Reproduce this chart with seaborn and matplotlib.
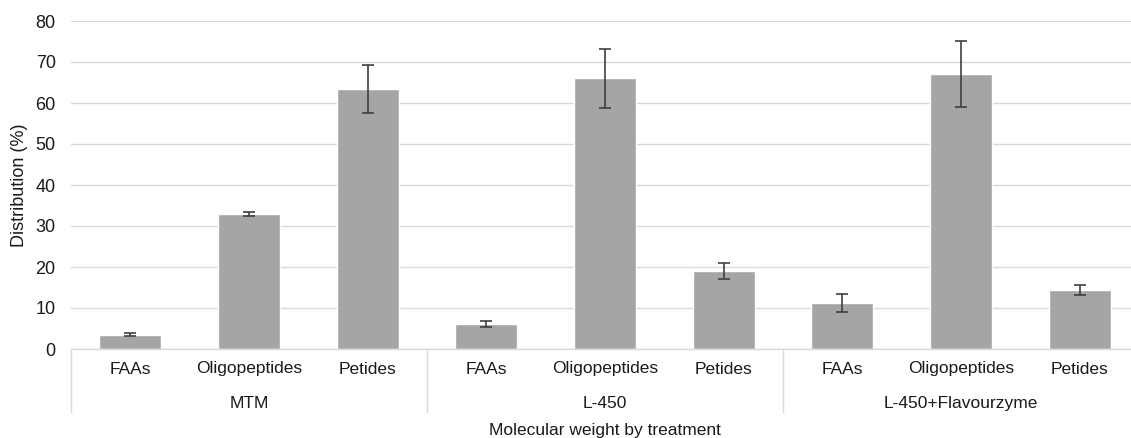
import matplotlib
matplotlib.use("Agg")
import matplotlib.pyplot as plt
import matplotlib.transforms as mtransforms
import seaborn as sns
import pandas as pd
import numpy as np

treatments = ["MTM", "L-450", "L-450+Flavourzyme"]
fractions = ["FAAs", "Oligopeptides", "Petides"]
mtm_values = [3.5, 33.0, 63.4]
l450_values = [6.1, 66.0, 19.0]
lf_values = [11.2, 67.1, 14.4]
mtm_err = [0.3, 0.5, 5.8]
l450_err = [0.8, 7.2, 2.0]
lf_err = [2.25, 8.0, 1.25]

rows = []
for t, vals, errs in zip(treatments, [mtm_values, l450_values, lf_values], [mtm_err, l450_err, lf_err]):
    for f, v, e in zip(fractions, vals, errs):
        rows.append({"key": f"{t}|{f}", "treatment": t, "fraction": f, "value": v, "err": e})
df = pd.DataFrame(rows)

sns.set_theme(style="white")
plt.rcParams["font.family"] = ["Liberation Sans", "DejaVu Sans"]

fig = plt.figure(figsize=(11.31, 4.38), dpi=100)
ax = fig.add_axes([71 / 1131, 89 / 438, 1068 / 1131, 328 / 438])

sns.barplot(data=df, x="key", y="value", color="#A5A5A5", saturation=1, width=0.52,
            errorbar=None, ax=ax, zorder=2)

centers = [p.get_x() + p.get_width() / 2 for p in ax.patches]
ax.errorbar(centers, df["value"], yerr=df["err"], fmt="none", ecolor="#404040",
            elinewidth=1.2, capsize=4, capthick=1.2, zorder=3)

ax.set_ylim(0, 80)
ax.set_yticks(np.arange(0, 81, 10))
ax.set_xlim(-0.5, len(df) - 0.5)
ax.yaxis.grid(True, color="#D9D9D9", linewidth=1)
ax.set_axisbelow(True)
for s in ["top", "right", "left"]:
    ax.spines[s].set_visible(False)
ax.spines["bottom"].set_color("#D9D9D9")
ax.spines["bottom"].set_linewidth(1)

ax.set_xticks(range(len(df)))
ax.set_xticklabels(df["fraction"], fontsize=12.5, color="#1a1a1a")
ax.tick_params(axis="x", length=0, pad=9)
ax.tick_params(axis="y", length=0, pad=11, labelsize=13, labelcolor="#1a1a1a")
ax.set_xlabel("")
ax.set_ylabel("Distribution (%)", fontsize=13, color="#1a1a1a")
ax.yaxis.set_label_coords(-0.040, 0.5)

trans = mtransforms.blended_transform_factory(ax.transData, ax.transAxes)
n = len(fractions)
for i, t in enumerate(treatments):
    ax.text(i * n + (n - 1) / 2, -0.165, t, transform=trans, ha="center", va="center",
            fontsize=12.5, color="#1a1a1a")
for b in range(len(treatments) + 1):
    xb = b * n - 0.5
    ax.plot([xb, xb], [0, -0.192], transform=trans, color="#D9D9D9", lw=1, clip_on=False)

ax.text(0.5, -0.247, "Molecular weight by treatment", transform=ax.transAxes,
        ha="center", va="center", fontsize=12.5, color="#1a1a1a")

fig.savefig("out.png", dpi=100, facecolor="white")
